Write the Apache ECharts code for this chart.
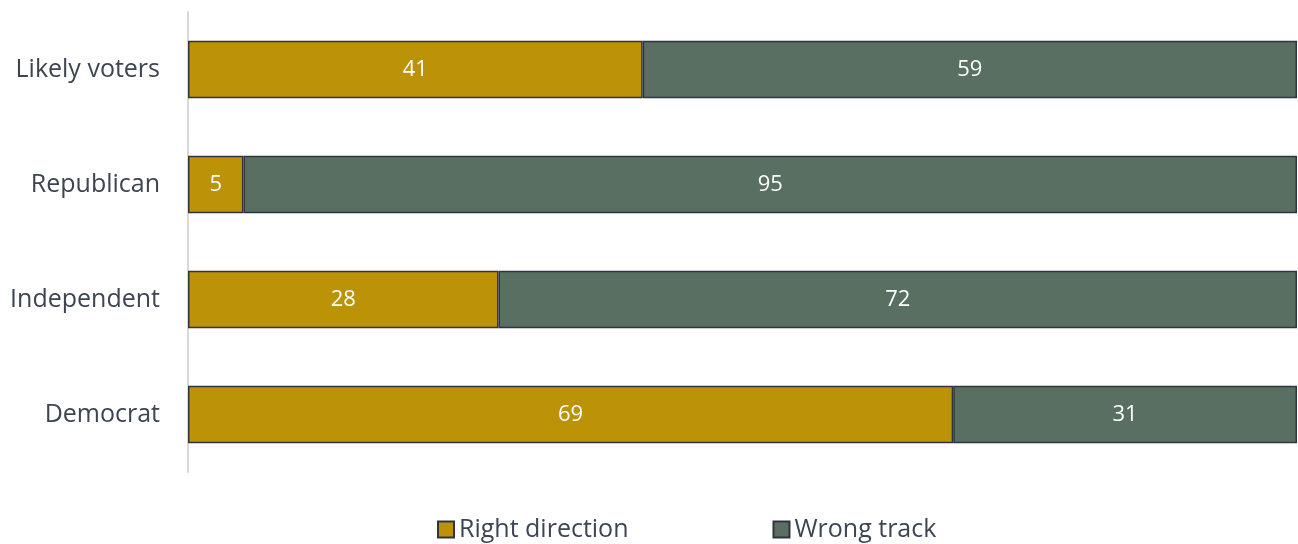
<!DOCTYPE html>
<html>
<head>
  <meta charset="utf-8" />
  <script src="https://cdn.jsdelivr.net/npm/echarts@6/dist/echarts.min.js"></script>
  <style>
    html, body { margin: 0; padding: 0; background: #fff; }
    #main { width: 1298px; height: 544px; }
  </style>
  <title>Right direction / Wrong track</title>
</head>
<body>
  <div id="main"></div>
  <script>
    // categories, top to bottom
    var groups = ['Likely voters', 'Republican', 'Independent', 'Democrat'];
    var rightDirection = [41, 5, 28, 69];
    var wrongTrack = [59, 95, 72, 31];

    var myChart = echarts.init(document.getElementById('main'));

    var labelStyle = {
      show: true,
      position: 'inside',
      color: '#fff',
      fontSize: 22,
      fontFamily: 'Open Sans'
    };

    var option = {
      animation: false,
      textStyle: { fontFamily: 'Open Sans' },
      grid: { left: 188, right: 1, top: 12, height: 460 },
      legend: {
        top: 512,
        left: 432,
        itemGap: 144,
        itemWidth: 16,
        itemHeight: 16,
        icon: 'rect',
        textStyle: { fontSize: 25, color: '#3d4452', fontFamily: 'Open Sans' },
        data: ['Right direction', 'Wrong track']
      },
      xAxis: {
        type: 'value',
        min: 0,
        max: 100,
        show: false
      },
      yAxis: {
        type: 'category',
        inverse: true,
        data: groups,
        axisLine: { lineStyle: { color: '#d9d9d9', width: 2 } },
        axisTick: { show: false },
        axisLabel: { fontSize: 25, color: '#3d4452', margin: 28, fontFamily: 'Open Sans' }
      },
      series: [
        {
          name: 'Right direction',
          type: 'bar',
          stack: 'total',
          barWidth: '50%',
          data: rightDirection,
          itemStyle: { color: '#bc9207', borderColor: '#2e3440', borderWidth: 1.5 },
          label: labelStyle
        },
        {
          name: 'Wrong track',
          type: 'bar',
          stack: 'total',
          data: wrongTrack,
          itemStyle: { color: '#586f62', borderColor: '#2e3440', borderWidth: 1.5 },
          label: labelStyle
        }
      ]
    };
    myChart.setOption(option);
  </script>
</body>
</html>
